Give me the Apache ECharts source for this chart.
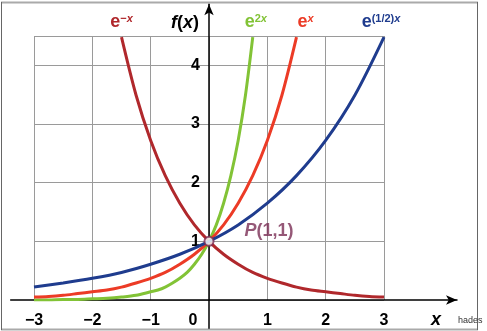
<!DOCTYPE html>
<html>
<head>
<meta charset="utf-8">
<script src="https://cdn.jsdelivr.net/npm/echarts@6/dist/echarts.min.js"></script>
<style>html,body{margin:0;padding:0;background:#fff}#c{width:487px;height:331px}</style>
</head>
<body>
<div id="c"></div>
<script>
// ---- data ----
const xTickLabels = [-3, -2, -1, 0, 1, 2, 3];
const yTickLabels = [1, 2, 3, 4];

const expNegX_x = [-1.5, -1.25, -1, -0.75, -0.5, -0.25, 0, 0.25, 0.5, 0.75, 1, 1.25, 1.5, 1.75, 2, 2.25, 2.5, 2.75, 3];
const expNegX_y = [4.48, 3.49, 2.72, 2.12, 1.65, 1.28, 1, 0.78, 0.61, 0.47, 0.37, 0.29, 0.22, 0.17, 0.14, 0.11, 0.08, 0.06, 0.05];

const exp2X_x = [-3, -2.75, -2.5, -2.25, -2, -1.75, -1.5, -1.25, -1, -0.875, -0.75, -0.625, -0.5, -0.375, -0.25, -0.125, 0, 0.125, 0.25, 0.375, 0.5, 0.625, 0.75];
const exp2X_y = [0.00, 0.00, 0.01, 0.01, 0.02, 0.03, 0.05, 0.08, 0.14, 0.17, 0.22, 0.29, 0.37, 0.47, 0.61, 0.78, 1, 1.28, 1.65, 2.12, 2.72, 3.49, 4.48];

const expX_x = [-3, -2.75, -2.5, -2.25, -2, -1.75, -1.5, -1.25, -1, -0.75, -0.5, -0.25, 0, 0.25, 0.5, 0.75, 1, 1.25, 1.5];
const expX_y = [0.05, 0.06, 0.08, 0.11, 0.14, 0.17, 0.22, 0.29, 0.37, 0.47, 0.61, 0.78, 1, 1.28, 1.65, 2.12, 2.72, 3.49, 4.48];

const expHalfX_x = [-3, -2.5, -2, -1.5, -1, -0.5, 0, 0.5, 1, 1.5, 2, 2.5, 3];
const expHalfX_y = [0.22, 0.29, 0.37, 0.47, 0.61, 0.78, 1, 1.28, 1.65, 2.12, 2.72, 3.49, 4.48];

const pointP = [0, 1];
const pointPLabel = 'P(1,1)';

// ---- chart ----
const FONT = '"Liberation Sans", Arial, Helvetica, sans-serif';
const zip = (xs, ys) => xs.map((x, i) => [x, ys[i]]);
const topPoint = (xs, ys) => { let k = 0; ys.forEach((v, i) => { if (v > ys[k]) k = i; }); return [xs[k], ys[k]]; };

function curve(name, xs, ys, color, labelText, offset) {
  return {
    name, type: 'line', xAxisIndex: 0, yAxisIndex: 0,
    data: zip(xs, ys), smooth: 0.3, showSymbol: false, symbol: 'none',
    lineStyle: { color, width: 3 }, z: 3,
    markPoint: {
      symbol: 'circle', symbolSize: 0, silent: true,
      data: [{ coord: topPoint(xs, ys) }],
      label: {
        show: true, position: 'top', distance: 6, offset,
        formatter: labelText,
        color,
        rich: {
          e: { fontSize: 18, fontWeight: 'bold', fontFamily: FONT, color },
          s: { fontSize: 11, fontWeight: 'bold', fontFamily: FONT, color, verticalAlign: 'top' },
          si: { fontSize: 11, fontWeight: 'bold', fontStyle: 'italic', fontFamily: FONT, color, verticalAlign: 'top' }
        }
      }
    }
  };
}

const chart = echarts.init(document.getElementById('c'), null, { renderer: 'canvas' });
const gridColor = '#9a9a9a';

// grid A spans the arrowed axes; its axes are shifted onto x=0 / y=0 of the plot
const gA = { left: 10.67, right: 30, top: 4.3, bottom: 2.8 };
const yAxisShift = -(209 - gA.left);          // move y axis line to x = 0
const xAxisShift = -((331 - gA.bottom) - 300); // move x axis line to y = 0

chart.setOption({
  animation: false,
  backgroundColor: '#fff',
  grid: [
    { left: 34, right: 103, top: 36, bottom: 31, outerBoundsMode: 'none', containLabel: false },
    { left: gA.left, right: gA.right, top: gA.top, bottom: gA.bottom, outerBoundsMode: 'none', containLabel: false }
  ],
  xAxis: [
    { gridIndex: 0, type: 'value', min: -3, max: 3, interval: 1,
      axisLine: { show: false }, axisTick: { show: false }, axisLabel: { show: false },
      splitLine: { show: true, lineStyle: { color: gridColor, width: 1 } } },
    { gridIndex: 1, type: 'value', min: -3.4, max: 4.25, position: 'bottom', offset: xAxisShift,
      axisLine: { show: true, onZero: false, symbol: ['none', 'arrow'], symbolSize: [7, 11],
        lineStyle: { color: '#000', width: 1.5 } },
      axisTick: { show: false },
      splitLine: { show: false },
      axisLabel: {
        show: true, customValues: xTickLabels, margin: 13,
        fontSize: 16, fontWeight: 'bold', fontFamily: FONT, color: '#000',
        formatter: v => v === 0 ? '{z|0}' : String(v).replace('-', '\u2212'),
        rich: { z: { fontSize: 16, fontWeight: 'bold', fontFamily: FONT, color: '#000', padding: [0, 32, 0, 0] } }
      } }
  ],
  yAxis: [
    { gridIndex: 0, type: 'value', min: 0, max: 4.5, interval: 1,
      axisLine: { show: false }, axisTick: { show: false }, axisLabel: { show: false },
      splitLine: { show: true, lineStyle: { color: gridColor, width: 1 } } },
    { gridIndex: 1, type: 'value', min: -0.48, max: 5.04, position: 'left', offset: yAxisShift,
      axisLine: { show: true, onZero: false, symbol: ['none', 'arrow'], symbolSize: [7, 11],
        lineStyle: { color: '#000', width: 1.5 } },
      axisTick: { show: false },
      splitLine: { show: false },
      axisLabel: {
        show: true, customValues: yTickLabels, margin: 9,
        fontSize: 16, fontWeight: 'bold', fontFamily: FONT, color: '#000'
      } }
  ],
  series: [
    curve('e^-x', expNegX_x, expNegX_y, '#b0282c', '{e|e}{s|\u2212}{si|x}', [0, 0]),
    curve('e^2x', exp2X_x, exp2X_y, '#82c336', '{e|e}{s|2}{si|x}', [3, 0]),
    curve('e^x', expX_x, expX_y, '#ec3b26', '{e|e}{si|x}', [9, 0]),
    curve('e^(1/2)x', expHalfX_x, expHalfX_y, '#1f3c8e', '{e|e}{s|(1/2)}{si|x}', [-3, 0]),
    {
      name: 'P', type: 'scatter', xAxisIndex: 0, yAxisIndex: 0, z: 5,
      data: [pointP], symbol: 'circle', symbolSize: 9,
      itemStyle: { color: '#fff', borderColor: '#7a2b52', borderWidth: 2 },
      label: {
        show: true, position: 'right', distance: 30, offset: [0, -10],
        formatter: '{p|P}{n|' + pointPLabel.slice(1) + '}',
        rich: {
          p: { fontSize: 18, fontWeight: 'bold', fontStyle: 'italic', fontFamily: FONT, color: '#7a2e55' },
          n: { fontSize: 18, fontWeight: 'bold', fontFamily: FONT, color: '#7a2e55' }
        }
      }
    }
  ],
  graphic: [
    { type: 'line', shape: { x1: 1, y1: 2.5, x2: 478, y2: 2.5 }, style: { stroke: '#aaaaaa', lineWidth: 2 }, silent: true },
    { type: 'line', shape: { x1: 1, y1: 329.5, x2: 478, y2: 329.5 }, style: { stroke: '#aaaaaa', lineWidth: 2 }, silent: true },
    { type: 'line', shape: { x1: 1.5, y1: 2, x2: 1.5, y2: 330 }, style: { stroke: '#666', lineWidth: 1 }, silent: true },
    { type: 'line', shape: { x1: 477.5, y1: 2, x2: 477.5, y2: 330 }, style: { stroke: '#666', lineWidth: 1 }, silent: true },
    { type: 'text', left: 171, top: 14, silent: true,
      style: { text: '{i|f}{n|(}{i|x}{n|)}', rich: {
        i: { fontSize: 18, fontWeight: 'bold', fontStyle: 'italic', fontFamily: FONT, fill: '#000' },
        n: { fontSize: 18, fontWeight: 'bold', fontFamily: FONT, fill: '#000' } } } },
    { type: 'text', left: 431, top: 311, silent: true,
      style: { text: 'x', fontSize: 18, fontWeight: 'bold', fontStyle: 'italic', fontFamily: FONT, fill: '#000' } },
    { type: 'text', left: 458, top: 316, silent: true,
      style: { text: 'hades', fontSize: 9, fontFamily: '"Liberation Sans Narrow", "Liberation Sans", Arial', fill: '#333' } }
  ]
});
</script>
</body>
</html>
